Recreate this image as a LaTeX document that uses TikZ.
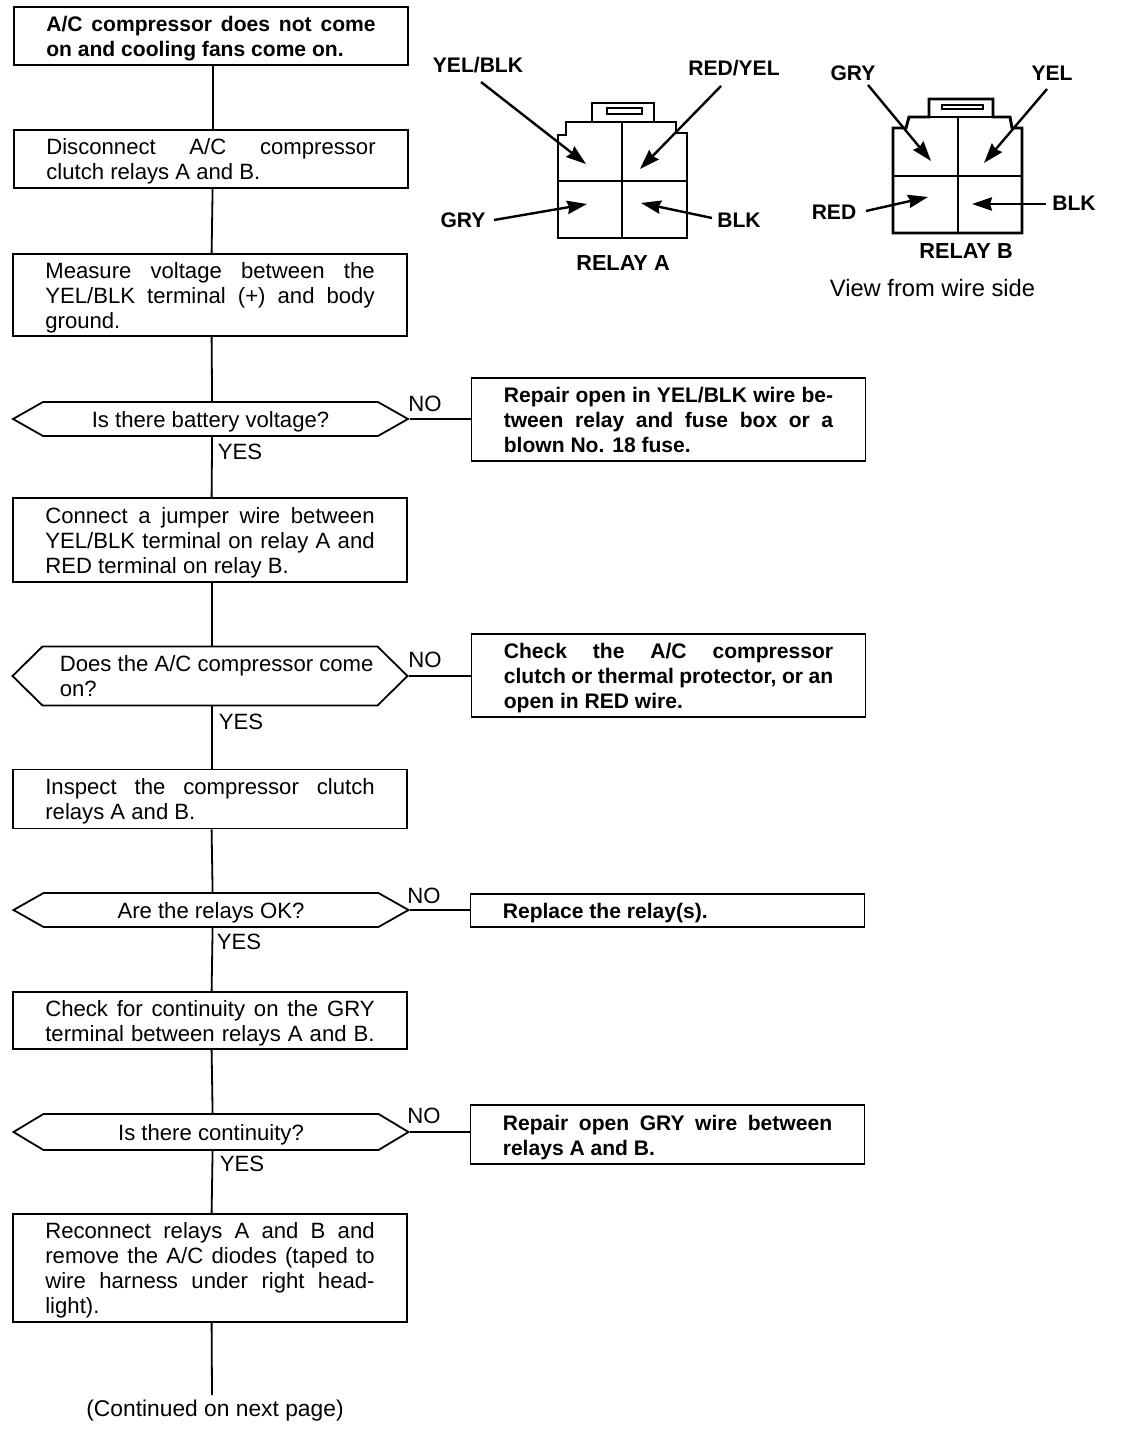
\documentclass[tikz,border=0pt]{standalone}
\usepackage{fontspec}
\setmainfont{Liberation Sans}
\usetikzlibrary{shapes.symbols,arrows.meta}
\newcommand{\jl}[1]{\makebox[247pt][s]{#1}}
\newcommand{\dn}{\rule{0pt}{15.6pt}}
\tikzset{
  x=0.75pt,y=-0.75pt,
  reg/.style={font=\fontsize{16.6}{18.75}\selectfont},
  bld/.style={font=\bfseries\fontsize{15.8}{18.75}\selectfont},
  box/.style={draw,line width=1.35pt,minimum width=394*0.75pt,inner sep=0pt,align=left,anchor=center},
  dec/.style={draw,line width=1.35pt,shape=signal,signal to=east and west,minimum width=395*0.75pt,inner sep=0pt,align=left,anchor=center,reg},
  link/.style={line width=1.35pt},
  lab/.style={inner sep=0pt,reg},
  tag/.style={inner sep=0pt,bld},
  rel/.style={line width=2.2pt,line join=miter},
  div/.style={line width=1.3pt},
  ptr/.style={line width=1.8pt,-{Stealth[length=15pt,width=10pt,inset=1.5pt]}},
}
\begin{document}
\begin{tikzpicture}
\path[use as bounding box,fill=white] (0,0) rectangle (1120,1430);
% left column
\node[box,bld,minimum height=58*0.75pt] (b1) at (211,36) {\dn\jl{A/C compressor does not come}\\on and cooling fans come on.};
\node[box,reg,minimum height=58*0.75pt] (b2) at (211,159) {\dn\jl{Disconnect A/C compressor}\\clutch relays A and B.};
\node[box,reg,minimum height=82*0.75pt] (b3) at (210,295) {\dn\jl{Measure voltage between the}\\\jl{YEL/BLK terminal (+) and body}\\ground.};
\node[dec,minimum height=34*0.75pt,signal pointer angle=59] (d1) at (210.5,419) {\dn Is there battery voltage?};
\node[box,reg,minimum height=84*0.75pt] (b4) at (210,540) {\dn\jl{Connect a jumper wire between}\\\jl{YEL/BLK terminal on relay A and}\\RED terminal on relay B.};
\node[dec,minimum height=59*0.75pt,signal pointer angle=89] (d2) at (210,676) {\hspace*{10pt}Does the A/C compressor come\\\hspace*{10pt}on?};
\node[box,reg,minimum height=59*0.75pt] (b5) at (210,799) {\dn\jl{Inspect the compressor clutch}\\relays A and B.};
\node[dec,minimum height=34*0.75pt,signal pointer angle=59] (d3) at (211,910) {\dn Are the relays OK?};
\node[box,reg,minimum height=57*0.75pt] (b6) at (210,1020.5) {\dn\jl{Check for continuity on the GRY}\\\jl{terminal between relays A and B.}};
\node[dec,minimum height=36*0.75pt,signal pointer angle=62] (d4) at (211,1132) {\dn Is there continuity?};
\node[box,reg,minimum height=108*0.75pt] (b7) at (210,1268) {\dn\jl{Reconnect relays A and B and}\\\jl{remove the A/C diodes (taped to}\\\jl{wire harness under right head-}\\light).};
\node[lab,font=\fontsize{17.1}{18.75}\selectfont] (cont) at (215,1411) {(Continued on next page)};
\coordinate (contend) at (212,1395);
% right column
\node[box,bld,minimum height=83*0.75pt] (r1) at (668.5,419.5) {\jl{Repair open in YEL/BLK wire be-}\\\jl{tween relay and fuse box or a}\\blown No. 18 fuse.};
\node[box,bld,minimum height=83*0.75pt] (r2) at (668.5,675.5) {\dn\jl{Check the A/C compressor}\\\jl{clutch or thermal protector, or an}\\open in RED wire.};
\node[box,bld,minimum height=33*0.75pt] (r3) at (667.5,910.5) {\dn\jl{Replace the relay(s).\hfill}};
\node[box,bld,minimum height=59*0.75pt] (r4) at (667.5,1134.5) {\dn\jl{Repair open GRY wire between}\\relays A and B.};
% vertical connectors
\foreach \a/\b in {b1/b2,b2/b3,b3/d1,d1/b4,b4/d2,d2/b5,b5/d3,d3/b6,b6/d4,d4/b7}
  \draw[link] ([xshift=1.2pt]\a.south) -- ([xshift=1.2pt]\b.north);
\draw[link] ([xshift=1.2pt]b7.south) -- (contend);
% NO connectors
\foreach \a/\b in {d1/r1,d2/r2,d3/r3,d4/r4}
  \draw[link] (\a.east) -- (\b.west |- \a.east);
% YES / NO labels
\node[lab] (n1) at (425,404) {NO};
\node[lab] (n2) at (425,660) {NO};
\node[lab] (n3) at (424,896) {NO};
\node[lab] (n4) at (424,1116) {NO};
\node[lab] (y1) at (240,452) {YES};
\node[lab] (y2) at (241,722) {YES};
\node[lab] (y3) at (239,942) {YES};
\node[lab] (y4) at (242,1164) {YES};
% relay A
\draw[rel] (558,238) -- (558,135) -- (566,135) -- (566,122) -- (592,122) -- (592,103) -- (654,103) -- (654,122) -- (676,122) -- (676,133) -- (687,133) -- (687,238) -- cycle;
\draw[div] (592,122) -- (654,122);
\draw[div] (607,108) rectangle (642,114);
\draw[rel] (558,181) -- (687,181);
\draw[div] (622,122) -- (622,238);
% relay B
\draw[rel] (893,233) -- (893,128) -- (906,128) -- (909,117) -- (929,117) -- (929,99) -- (993,99) -- (993,117) -- (1010,117) -- (1012,128) -- (1022,128) -- (1022,233) -- cycle;
\draw[div] (929,117) -- (993,117);
\draw[div] (942,105) rectangle (983,109);
\draw[rel] (893,176) -- (1022,176);
\draw[div] (958,117) -- (958,233);
% relay labels
\node[tag] (ayb) at (478,65) {YEL/BLK};
\node[tag] (ary) at (734,68) {RED/YEL};
\node[tag] (agr) at (463,220) {GRY};
\node[tag] (abk) at (739,220) {BLK};
\node[tag,font=\bfseries\fontsize{16.3}{18.75}\selectfont] (ra) at (623,263) {RELAY A};
\node[tag] (bgr) at (853,73) {GRY};
\node[tag] (bye) at (1052,73) {YEL};
\node[tag] (brd) at (834,212) {RED};
\node[tag] (bbk) at (1074,203) {BLK};
\node[tag,font=\bfseries\fontsize{16.3}{18.75}\selectfont] (rb) at (966,251) {RELAY B};
\node[lab,font=\fontsize{17.8}{18.75}\selectfont] (view) at (932.5,288) {View from wire side};
% relay arrows
\coordinate (s1) at (481,82);  \coordinate (t1) at (586,164);
\coordinate (s2) at (721,86);  \coordinate (t2) at (640,169);
\coordinate (s3) at (494,220); \coordinate (t3) at (587,204);
\coordinate (s4) at (712,218); \coordinate (t4) at (641,203);
\coordinate (s5) at (868,85);  \coordinate (t5) at (931,161);
\coordinate (s6) at (1047,89); \coordinate (t6) at (984,163);
\coordinate (s7) at (866,211); \coordinate (t7) at (928,197);
\coordinate (s8) at (1046,204);\coordinate (t8) at (972,204);
\foreach \i in {1,...,8} \draw[ptr] (s\i) -- (t\i);
\end{tikzpicture}
\end{document}
